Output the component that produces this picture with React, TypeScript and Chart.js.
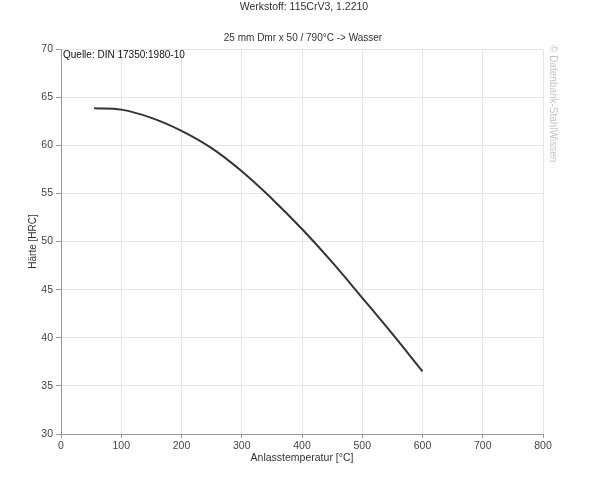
import { useEffect, useRef } from "react"
import { Chart, registerables, type ChartConfiguration, type Plugin } from "chart.js"

Chart.register(...registerables)

// Anlasstemperatur [°C] and Härte [HRC]
const temperatures = [55, 100, 150, 200, 250, 300, 350, 400, 450, 500, 550, 600]
const hardness = [63.85, 63.7, 62.85, 61.5, 59.7, 57.3, 54.45, 51.3, 47.85, 44.15, 40.4, 36.5]

const mainTitle = "Werkstoff: 115CrV3, 1.2210"
const subTitle = "25 mm Dmr x 50 / 790°C -> Wasser"
const sourceNote = "Quelle: DIN 17350:1980-10"
const watermark = "© Datenbank-StahlWissen"

const FONT = "'Liberation Sans', Arial, sans-serif"

// Titles, source note and the rotated copyright mark
const annotations: Plugin<"line"> = {
  id: "annotations",
  afterDraw: (chart) => {
    const { ctx, chartArea } = chart
    ctx.save()
    ctx.font = `10.5px ${FONT}`
    ctx.fillStyle = "#333"
    ctx.textAlign = "center"
    ctx.textBaseline = "middle"
    ctx.fillText(mainTitle, 304, 7)
    ctx.font = `10px ${FONT}`
    ctx.fillText(subTitle, 303, 38)

    ctx.textAlign = "left"
    ctx.fillStyle = "#111"
    ctx.fillText(sourceNote, chartArea.left + 2, 55)

    ctx.translate(chartArea.right + 10, chartArea.top - 4)
    ctx.rotate(Math.PI / 2)
    ctx.fillStyle = "#c4c4c4"
    ctx.fillText(watermark, 0, 0)
    ctx.restore()
  },
}

export default function App() {
  const canvasRef = useRef<HTMLCanvasElement>(null)

  useEffect(() => {
    document.body.style.margin = "0"
    if (!canvasRef.current) return

    const config: ChartConfiguration<"line"> = {
      type: "line",
      data: {
        datasets: [
          {
            data: temperatures.map((t, i) => ({ x: t, y: hardness[i] })),
            borderColor: "#333",
            borderWidth: 2,
            pointRadius: 0,
            tension: 0.4,
            fill: false,
          },
        ],
      },
      options: {
        responsive: false,
        animation: false,
        layout: { padding: { top: 49, right: 62, left: 0, bottom: 0 } },
        plugins: {
          legend: { display: false },
          tooltip: { enabled: false },
        },
        scales: {
          x: {
            type: "linear",
            min: 0,
            max: 800,
            afterFit: (scale) => {
              scale.height = 50
            },
            ticks: { stepSize: 100, color: "#444", font: { family: FONT, size: 10.5 }, padding: 2 },
            grid: { color: "#e6e6e6", tickLength: 4, tickColor: "#999" },
            border: { color: "#999" },
            title: {
              display: true,
              text: "Anlasstemperatur [°C]",
              color: "#333",
              font: { family: FONT, size: 10.5 },
              padding: { top: 0, bottom: 20 },
            },
          },
          y: {
            type: "linear",
            min: 30,
            max: 70,
            afterFit: (scale) => {
              scale.width = 61
            },
            ticks: { stepSize: 5, color: "#444", font: { family: FONT, size: 10.5 }, padding: 3 },
            grid: { color: "#e6e6e6", tickLength: 5, tickColor: "#999" },
            border: { color: "#999" },
            title: {
              display: true,
              text: "Härte [HRC]",
              color: "#333",
              font: { family: FONT, size: 10 },
              padding: { top: 27, bottom: 0 },
            },
          },
        },
      },
      plugins: [annotations],
    }

    const chart = new Chart(canvasRef.current, config)
    return () => chart.destroy()
  }, [])

  return (
    <div style={{ width: 605, height: 484, background: "#fff" }}>
      <canvas ref={canvasRef} width={605} height={484} />
    </div>
  )
}
